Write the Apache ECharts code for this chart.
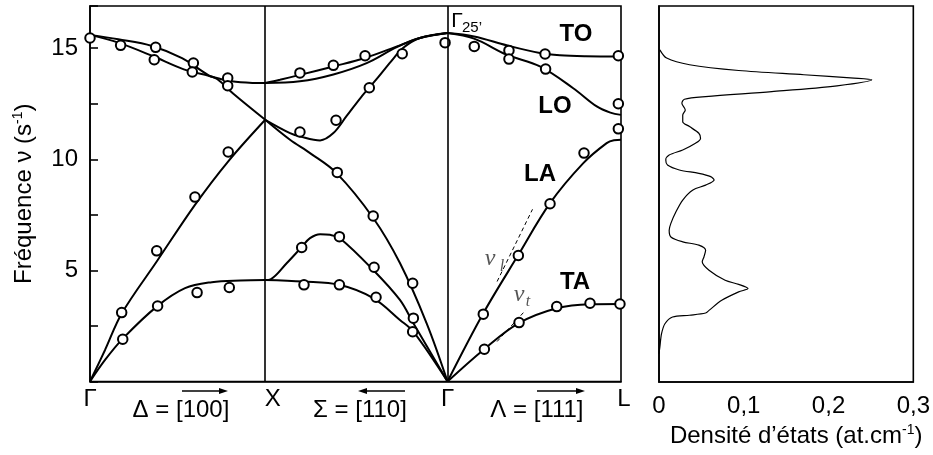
<!DOCTYPE html>
<html>
<head>
<meta charset="utf-8">
<script src="https://cdn.jsdelivr.net/npm/echarts@6/dist/echarts.min.js"></script>
<style>
  html, body { margin: 0; background: #fff; }
  #main { width: 933px; height: 455px; }
</style>
</head>
<body>
<div id="main"></div>
<script>
// path through the zone: Γ -> X -> Γ -> L (reduced units, roughly equal widths as drawn)
const kTicks = [0, 0.514, 0.99, 1.525, 2.02, 2.525, 3.0]
const kTickNames = ['Γ', 'Δ = [100]', 'X', 'Σ = [110]', 'Γ', 'Λ = [111]', 'L']

// branches [k, ν] along Δ
const toDelta = [[0, 15.6], [0.16, 15.25], [0.35, 14.66], [0.53, 14.05], [0.67, 13.76], [0.78, 13.54], [0.9, 13.45], [0.99, 13.43]]
const loDelta = [[0, 15.6], [0.16, 15.4], [0.35, 15.1], [0.52, 14.55], [0.67, 13.78], [0.72, 13.6], [0.81, 12.95], [0.99, 11.78]]
const laDelta = [[0, 0], [0.085, 1.42], [0.18, 3.07], [0.377, 5.4], [0.593, 7.95], [0.78, 9.9], [0.99, 11.78]]
const taDelta = [[0, 0], [0.085, 0.97], [0.188, 1.95], [0.377, 3.37], [0.537, 4.2], [0.688, 4.47], [0.85, 4.55], [0.99, 4.57]]

// along Σ (X -> Γ)
const opt1Sigma = [[0.99, 13.43], [1.073, 13.58], [1.186, 13.8], [1.375, 14.18], [1.554, 14.56], [1.751, 15.13], [1.864, 15.46], [2.02, 15.68]]
const opt2Sigma = [[0.99, 13.43], [1.186, 13.51], [1.375, 13.82], [1.563, 14.33], [1.733, 15.05], [1.864, 15.46], [2.02, 15.68]]
const loSigma = [[0.99, 11.78], [1.13, 11.18], [1.19, 11.02], [1.3, 10.85], [1.375, 11.18], [1.45, 11.95], [1.53, 12.78], [1.62, 13.62], [1.7, 14.4], [1.77, 15.02], [1.864, 15.46], [2.02, 15.68]]
const laSigma = [[0.99, 11.78], [1.13, 10.88], [1.243, 10.28], [1.393, 9.38], [1.6, 7.36], [1.751, 5.33], [1.902, 2.62], [2.02, 0]]
const ta1Sigma = [[0.99, 4.57], [1.02, 4.6], [1.111, 5.32], [1.196, 6.05], [1.243, 6.45], [1.3, 6.63], [1.356, 6.6], [1.412, 6.45], [1.6, 5.02], [1.751, 3.67], [1.827, 2.62], [2.02, 0]]
const ta2Sigma = [[0.99, 4.57], [1.205, 4.5], [1.409, 4.35], [1.6, 3.75], [1.751, 2.77], [1.827, 2.24], [2.02, 0]]

// along Λ (Γ -> L)
const toLambda = [[2.02, 15.68], [2.17, 15.53], [2.354, 15.13], [2.542, 14.78], [2.655, 14.68], [2.8, 14.64], [3.0, 14.63]]
const loLambda = [[2.02, 15.68], [2.17, 15.43], [2.354, 14.71], [2.542, 14.18], [2.73, 13.2], [2.863, 12.38], [2.94, 12.1], [3.0, 12.0]]
const laLambda = [[2.02, 0], [2.222, 3.07], [2.42, 5.7], [2.599, 8.03], [2.787, 9.83], [2.919, 10.73], [2.96, 10.86], [3.0, 10.88]]
const taLambda = [[2.02, 0], [2.222, 1.42], [2.42, 2.62], [2.637, 3.3], [2.825, 3.48], [3.0, 3.49]]

// sound velocity tangents
const vlLine = [[2.3, 4.5], [2.5, 7.75]]
const vtLine = [[2.3, 1.8], [2.46, 3.2]]

// measured points (neutron data)
const measured = [
  [0, 15.46], [0.173, 15.13], [0.371, 15.04], [0.363, 14.48], [0.584, 14.33], [0.578, 13.93], [0.778, 13.66], [0.778, 13.31],
  [0.179, 3.1], [0.377, 5.88], [0.593, 8.3], [0.781, 10.33],
  [0.185, 1.9], [0.382, 3.4], [0.605, 4.0], [0.787, 4.23],
  [1.186, 13.89], [1.375, 14.23], [1.554, 14.66], [1.764, 14.75], [2.006, 15.25],
  [1.186, 11.23], [1.39, 11.76], [1.578, 13.22],
  [1.397, 9.41], [1.6, 7.45], [1.823, 4.42],
  [1.196, 6.03], [1.409, 6.52], [1.605, 5.14], [1.827, 2.85],
  [1.209, 4.35], [1.409, 4.35], [1.616, 3.79], [1.823, 2.24],
  [2.171, 15.08], [2.367, 14.9], [2.571, 14.74], [2.985, 14.66],
  [2.367, 14.51], [2.574, 14.06], [2.985, 12.5],
  [2.222, 3.03], [2.42, 5.67], [2.599, 8.0], [2.791, 10.28], [2.985, 11.37],
  [2.228, 1.45], [2.424, 2.65], [2.637, 3.37], [2.825, 3.52], [2.994, 3.49]
]

// density of states
const dosFreq = [1.27, 1.57, 2.17, 2.62, 2.92, 3.0, 3.1, 3.22, 3.67, 4.05, 4.2, 4.39, 4.57, 5.02, 5.4, 5.62, 5.92, 6.15, 6.3, 6.52, 6.82, 7.13, 7.65, 8.18, 8.63, 8.85, 9.08, 9.23, 9.38, 9.53, 9.75, 9.98, 10.2, 10.43, 10.73, 10.95, 11.18, 11.48, 11.7, 12.0, 12.23, 12.53, 12.71, 12.83, 13.05, 13.31, 13.58, 13.66, 13.81, 14.0, 14.26, 14.56, 14.93]
const dosVal = [0, 0.001, 0.003, 0.007, 0.016, 0.036, 0.055, 0.059, 0.074, 0.094, 0.105, 0.094, 0.078, 0.059, 0.051, 0.053, 0.055, 0.047, 0.028, 0.014, 0.012, 0.014, 0.02, 0.028, 0.04, 0.055, 0.065, 0.061, 0.047, 0.024, 0.01, 0.008, 0.012, 0.028, 0.043, 0.049, 0.047, 0.036, 0.028, 0.028, 0.031, 0.027, 0.03, 0.055, 0.133, 0.21, 0.251, 0.23, 0.171, 0.094, 0.036, 0.009, 0.001]

const font = 'Liberation Sans'
const branches = [toDelta, loDelta, laDelta, taDelta, opt1Sigma, opt2Sigma, loSigma, laSigma, ta1Sigma, ta2Sigma, toLambda, loLambda, laLambda, taLambda]

const curve = data => ({
  type: 'line',
  data: data,
  smooth: 0.35,
  symbol: 'none',
  silent: true,
  z: 3,
  lineStyle: { color: '#000', width: 2 }
})

const series = branches.map(curve)
// the two vertical lines at X and Γ
series[0].markLine = {
  silent: true,
  symbol: 'none',
  label: { show: false },
  lineStyle: { color: '#000', width: 1.6, type: 'solid' },
  data: [{ xAxis: kTicks[2] }, { xAxis: kTicks[4] }]
}
series.push(
  { type: 'line', data: vlLine, symbol: 'none', silent: true, lineStyle: { color: '#000', width: 1, type: [4, 3] } },
  { type: 'line', data: vtLine, symbol: 'none', silent: true, lineStyle: { color: '#000', width: 1, type: [4, 3] } },
  {
    type: 'scatter',
    data: measured,
    symbol: 'circle',
    symbolSize: 9.5,
    silent: true,
    z: 4,
    itemStyle: { color: '#fff', borderColor: '#000', borderWidth: 2, opacity: 1 }
  },
  {
    type: 'line',
    xAxisIndex: 1,
    yAxisIndex: 1,
    data: dosVal.map((v, i) => [v, dosFreq[i]]),
    smooth: 0.3,
    symbol: 'none',
    silent: true,
    lineStyle: { color: '#000', width: 1.2 }
  }
)

const arrow = (x1, x2, y) => {
  const d = x2 > x1 ? 1 : -1
  return [
    { type: 'line', shape: { x1: x1, y1: y, x2: x2 - d * 4, y2: y }, style: { stroke: '#000', lineWidth: 1.3 } },
    { type: 'polygon', shape: { points: [[x2, y], [x2 - d * 9, y - 3], [x2 - d * 9, y + 3]] }, style: { fill: '#000' } }
  ]
}
const txt = (text, x, y, f, color) => ({
  type: 'text', x: x, y: y,
  style: { text: text, font: f, fill: color || '#000', align: 'center', verticalAlign: 'middle' }
})

const chart = echarts.init(document.getElementById('main'))
chart.setOption({
  animation: false,
  backgroundColor: '#fff',
  textStyle: { fontFamily: font, color: '#000' },
  grid: [
    { left: 90, top: 6, width: 531, height: 375.5, show: true, borderColor: '#000', borderWidth: 1.6 },
    { left: 659, top: 6, width: 258, height: 376, show: true, borderColor: '#000', borderWidth: 1.6 }
  ],
  xAxis: [
    {
      type: 'value', gridIndex: 0, min: 0, max: 3.0,
      axisLine: { lineStyle: { color: '#000', width: 1.6 } },
      axisTick: { show: false },
      splitLine: { show: false },
      axisLabel: {
        customValues: kTicks,
        margin: 6,
        color: '#000',
        fontFamily: font,
        fontSize: 24,
        formatter: v => {
          const i = kTicks.indexOf(v)
          const name = kTickNames[i]
          if (i % 2 === 1) return '{seg|' + name + '}'
          if (name === 'X') return '{x|X}'
          if (name === 'L') return '{l|L}'
          return '{pt|' + name + '}'
        },
        rich: {
          pt: { fontSize: 24, lineHeight: 24, fontFamily: font },
          x: { fontSize: 24, lineHeight: 24, fontFamily: font, padding: [0, 0, 0, 15] },
          l: { fontSize: 24, lineHeight: 24, fontFamily: font, padding: [0, 0, 0, 6] },
          seg: { fontSize: 24, lineHeight: 46, fontFamily: font }
        }
      }
    },
    {
      type: 'value', gridIndex: 1, min: 0, max: 0.3, interval: 0.1,
      axisLine: { lineStyle: { color: '#000', width: 1.6 } },
      axisTick: { show: false },
      splitLine: { show: false },
      axisLabel: {
        margin: 12, color: '#000', fontFamily: font, fontSize: 24,
        formatter: v => v === 0 ? '0' : v.toFixed(1).replace('.', ',')
      },
      name: '{a|Densité d’états (at.cm}{b|-1}{a|)}',
      nameLocation: 'middle',
      nameGap: 36,
      nameTextStyle: {
        padding: [0, 0, 0, 20],
        rich: {
          a: { fontSize: 24, lineHeight: 26, fontFamily: font, color: '#000' },
          b: { fontSize: 14, lineHeight: 14, fontFamily: font, color: '#000', verticalAlign: 'top' }
        }
      }
    }
  ],
  yAxis: [
    {
      type: 'value', gridIndex: 0, min: 0, max: 16.9, interval: 2.5,
      axisLine: { lineStyle: { color: '#000', width: 1.6 } },
      axisTick: { inside: true, length: 8, lineStyle: { color: '#000', width: 1.6 } },
      splitLine: { show: false },
      axisLabel: {
        margin: 12, color: '#000', fontFamily: font, fontSize: 24,
        formatter: v => (v > 0 && v % 5 === 0) ? String(v) : ''
      },
      name: '{a|Fréquence ν (s}{b|-1}{a|)}',
      nameLocation: 'middle',
      nameRotate: 90,
      nameGap: 53,
      nameTextStyle: {
        rich: {
          a: { fontSize: 24, lineHeight: 26, fontFamily: font, color: '#000' },
          b: { fontSize: 14, lineHeight: 14, fontFamily: font, color: '#000', verticalAlign: 'top' }
        }
      }
    },
    {
      type: 'value', gridIndex: 1, min: 0, max: 16.9,
      axisLine: { lineStyle: { color: '#000', width: 1.6 } },
      axisTick: { show: false },
      axisLabel: { show: false },
      splitLine: { show: false }
    }
  ],
  graphic: [
    txt('TO', 576, 34, 'bold 24px Liberation Sans'),
    txt('LO', 555, 106, 'bold 24px Liberation Sans'),
    txt('LA', 540, 174, 'bold 24px Liberation Sans'),
    txt('TA', 575, 282, 'bold 24px Liberation Sans'),
    txt('Γ', 457, 21, '21px Liberation Sans'),
    txt('25’', 472, 28, '15px Liberation Sans'),
    txt('v', 490, 259, 'italic 24px Liberation Serif', '#555'),
    txt('l', 502, 267, 'italic 16px Liberation Serif', '#555'),
    txt('v', 519, 295, 'italic 24px Liberation Serif', '#555'),
    txt('t', 528, 302, 'italic 16px Liberation Serif', '#555'),
    ...arrow(182, 228, 391),
    ...arrow(405, 358, 391),
    ...arrow(537, 585, 391)
  ],
  series: series
})
</script>
</body>
</html>
